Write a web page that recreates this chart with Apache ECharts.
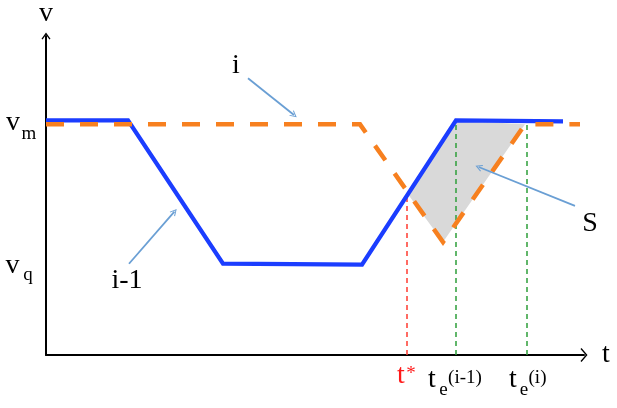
<!DOCTYPE html>
<html><head><meta charset="utf-8">
<script src="https://cdn.jsdelivr.net/npm/echarts@6/dist/echarts.min.js"></script>
<style>html,body{margin:0;padding:0;background:#fff}#c{width:617px;height:408px}</style>
</head><body><div id="c"></div>
<script>
// ---- data (time t, speed v) ----
const prevT = [0, 82, 177, 316, 410, 517];      // vehicle i-1 (blue)
const prevV = [239, 239, 93, 92, 239, 238];
const curT = [0, 314, 397, 479, 534];            // vehicle i (orange dashed)
const curV = [235, 235, 115, 235, 235];
const areaT = [361, 410, 479, 397];              // region S
const areaV = [165, 239, 235, 115];
const markT = [361, 410, 481];                   // t*, te(i-1), te(i)
const markV = [165, 239, 235];
const vLevels = [237, 93];                       // v_m, v_q
const tMax = 538, vMax = 325;

const FONT = '"Liberation Serif", "DejaVu Serif", serif';
const chart = echarts.init(document.getElementById('c'), null, {renderer: 'canvas'});

const yArrow = 'path://M0,6.2 L4.5,0 L9,6.2 L7.9,7 L4.5,2.3 L1.1,7 Z';
const xArrow = 'path://M0,6 L7,0 L14,6 L13,7 L7,1.8 L1,7 Z';
const headPath = 'path://M0,6.5 L4,0 L8,6.5 L7,7 L4,2 L1,7 Z';

const arrows = [
  [[202, 282], [248, 244.5]],
  [[83, 93], [128.4, 146]],
  [[529, 152], [432.7, 191.5]]
];
const markColors = ['#ff3b30', '#2e9e3a', '#2e9e3a'];

chart.setOption({
  animation: false,
  grid: {left: 46, top: 30, width: 538, height: 325, containLabel: false},
  xAxis: {
    type: 'value', min: 0, max: tMax,
    name: 't', nameLocation: 'end', nameGap: 18,
    nameTextStyle: {fontFamily: FONT, fontSize: 28, color: '#000'},
    axisLine: {show: true, lineStyle: {color: '#000', width: 2}, symbol: ['none', xArrow], symbolSize: [14, 7]},
    axisTick: {show: false}, axisLabel: {show: false}, splitLine: {show: false}
  },
  yAxis: {
    type: 'value', min: 0, max: vMax,
    name: 'v', nameLocation: 'end', nameGap: 8,
    nameTextStyle: {fontFamily: FONT, fontSize: 28, color: '#000'},
    axisLine: {show: true, lineStyle: {color: '#000', width: 2}, symbol: ['none', yArrow], symbolSize: [9, 7]},
    axisTick: {show: false}, axisLabel: {show: false}, splitLine: {show: false}
  },
  series: [
    {
      type: 'custom', z: 1, silent: true,
      data: [[0]],
      renderItem: function (params, api) {
        const pts = areaT.map((t, i) => api.coord([t, areaV[i]]));
        return {type: 'polygon', shape: {points: pts}, style: {fill: '#d9d9d9'}};
      }
    },
    {
      type: 'lines', coordinateSystem: 'cartesian2d', z: 2, silent: true,
      data: markT.map((t, i) => ({
        coords: [[t, 0], [t, markV[i]]],
        lineStyle: {color: markColors[i], width: 1.5, type: [5, 4], opacity: 1}
      }))
    },
    {
      type: 'line', z: 3, silent: true, symbol: 'none',
      data: prevT.map((t, i) => [t, prevV[i]]),
      lineStyle: {color: '#1b3dff', width: 4.3, join: 'miter'}
    },
    {
      type: 'line', z: 4, silent: true, symbol: 'none',
      data: curT.map((t, i) => [t, curV[i]]),
      lineStyle: {color: '#f7801f', width: 4.5, type: [18, 16], cap: 'butt', join: 'miter'}
    },
    {
      type: 'lines', coordinateSystem: 'cartesian2d', z: 5, silent: true,
      symbol: ['none', headPath], symbolSize: [8, 7],
      lineStyle: {color: '#6a9fd4', width: 1.8, opacity: 1},
      data: arrows.map(a => ({coords: a}))
    }
  ]
});

// ---- text annotations anchored to data coordinates ----
const labels = [
  {at: [190, 292], parts: [['i', 0, -3, 28, '#000']]},
  {at: [81, 76], parts: [['i-1', 0, 0, 28, '#000']]},
  {at: [544, 134], parts: [['S', 0, 0, 28, '#000']]},
  {at: [0, vLevels[0]], parts: [['v', -33, 0.5, 28, '#000'], ['m', -17, 11.5, 19, '#000']]},
  {at: [0, vLevels[1]], parts: [['v', -33.5, 1.5, 28, '#000'], ['q', -18, 11, 19, '#000']]},
  {at: [markT[0], 0], parts: [['t', -6, 20.5, 28, '#ff1a1a'], ['*', 4, 19.5, 19, '#ff1a1a']]},
  {at: [markT[1], 0], parts: [['t', -24, 25, 28, '#000'], ['e', -12.5, 35, 19, '#000'], ['(i-1)', 9, 23, 19, '#000']]},
  {at: [markT[2], 0], parts: [['t', -14, 25, 28, '#000'], ['e', -3, 35, 19, '#000'], ['(i)', 10.5, 23, 19, '#000']]}
];
const graphic = [];
labels.forEach(l => {
  const p = chart.convertToPixel({gridIndex: 0}, l.at);
  l.parts.forEach(([s, dx, dy, size, col]) => {
    graphic.push({
      type: 'text', x: p[0] + dx, y: p[1] + dy, silent: true, z: 10,
      style: {text: s, fontFamily: FONT, fontSize: size, fill: col, align: 'center', verticalAlign: 'middle'}
    });
  });
});
chart.setOption({graphic: graphic});
</script>
</body></html>
